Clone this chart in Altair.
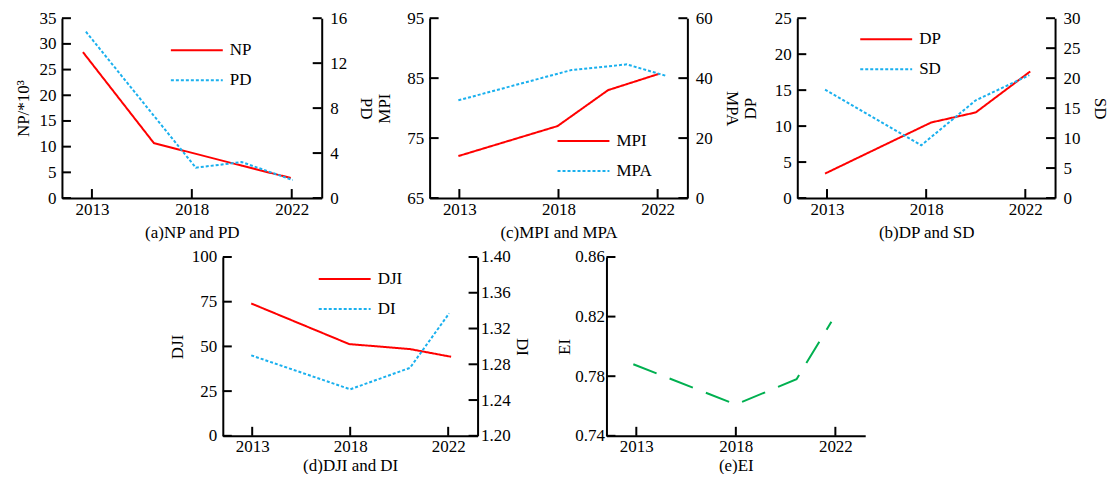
import altair as alt
import pandas as pd

FONT = "Liberation Serif"
RED = "#ff0000"
CYAN = "#1ab0ee"
GREEN = "#00b050"

# shared x axis: three labelled positions
x_tick_pos = [1, 2, 3]
x_tick_labels = ["2013", "2018", "2022"]
X_DOMAIN = [0.7, 3.3]

# (a) NP and PD
np_x = [0.91, 1.62, 2.5, 2.99]
np_v = [28.4, 10.7, 6.3, 3.9]
pd_x = [0.94, 2.04, 2.5, 3.01]
pd_v = [14.8, 2.7, 3.2, 1.6]
np_ticks = [0, 5, 10, 15, 20, 25, 30, 35]
pd_ticks = [0, 4, 8, 12, 16]

# (c) MPI and MPA
mpi_x = [0.99, 1.99, 2.5, 3.01]
mpi_v = [72.0, 77.0, 83.0, 85.7]
mpa_x = [0.99, 2.13, 2.69, 3.08]
mpa_v = [32.6, 42.7, 44.6, 40.8]
mpi_ticks = [65, 75, 85, 95]
mpa_ticks = [0, 20, 40, 60]

# (b) DP and SD
dp_x = [0.98, 2.05, 2.5, 3.05]
dp_v = [3.4, 10.5, 11.9, 17.6]
sd_x = [0.98, 1.95, 2.5, 3.04]
sd_v = [18.1, 8.8, 16.3, 20.5]
dp_ticks = [0, 5, 10, 15, 20, 25]
sd_ticks = [0, 5, 10, 15, 20, 25, 30]

# (d) DJI and DI
dji_x = [0.99, 1.99, 2.61, 3.03]
dji_v = [74.0, 51.3, 48.5, 44.2]
di_x = [0.99, 2.0, 2.61, 3.01]
di_v = [1.290, 1.252, 1.276, 1.337]
dji_ticks = [0, 25, 50, 75, 100]
di_ticks = [1.20, 1.24, 1.28, 1.32, 1.36, 1.40]

# (e) EI
ei_x = [0.97, 2.0, 2.61, 2.96]
ei_v = [0.788, 0.761, 0.778, 0.8165]
ei_ticks = [0.74, 0.78, 0.82, 0.86]

TICK = 9


def label_expr(pos, labels):
    expr = "''"
    for p, l in reversed(list(zip(pos, labels))):
        expr = f"datum.value == {p} ? '{l}' : ({expr})"
    return expr


XLABEL = label_expr(x_tick_pos, x_tick_labels)


def xscale():
    return alt.Scale(domain=X_DOMAIN, nice=False, zero=False)


def yscale(dom):
    return alt.Scale(domain=dom, nice=False, zero=False)


def x_axis(title, tp):
    return alt.Axis(values=x_tick_pos, labelExpr=XLABEL, title=title,
                    labelPadding=3, titlePadding=tp)


def bottom_ticks(h, title, tp):
    return alt.Chart(pd.DataFrame({"v": x_tick_pos})).mark_rule(
        color="black", strokeWidth=2).encode(
        x=alt.X("v:Q", scale=xscale(), axis=x_axis(title, tp)),
        y=alt.value(h), y2=alt.value(h - TICK))


def y_ticks(vals, dom, side, w, axis=None):
    if side == "left":
        xa, xb = 0, TICK
    else:
        xa, xb = w - TICK, w
    return alt.Chart(pd.DataFrame({"v": vals})).mark_rule(
        color="black", strokeWidth=2).encode(
        x=alt.value(xa), x2=alt.value(xb),
        y=alt.Y("v:Q", scale=yscale(dom), axis=axis))


def dual_panel(xs1, ys1, n1, t1, xs2, ys2, n2, t2, title, ytitle1, ytitle2,
               fmt1, fmt2, w, h, legx, legy, tp1, tp2, lp1, lp2, xtp):
    dom1 = [t1[0], t1[-1]]
    dom2 = [t2[0], t2[-1]]
    names = [n1, n2]
    leg = alt.Legend(title=None, orient="none", legendX=legx, legendY=legy)
    color = dict(scale=alt.Scale(domain=names, range=[RED, CYAN]), legend=leg)
    dash = dict(scale=alt.Scale(domain=names, range=[[1, 0], [3, 2]]), legend=leg)

    df1 = pd.DataFrame({"x": xs1, "y": ys1, "series": n1})
    df2 = pd.DataFrame({"x": xs2, "y": ys2, "series": n2})

    l1 = alt.Chart(df1).mark_line(strokeWidth=2).encode(
        x=alt.X("x:Q", scale=xscale(), axis=x_axis(title, xtp)),
        y=alt.Y("y:Q", scale=yscale(dom1),
                axis=alt.Axis(values=t1, format=fmt1, title=ytitle1, orient="left",
                              labelPadding=lp1, titlePadding=tp1)),
        color=alt.Color("series:N", **color),
        strokeDash=alt.StrokeDash("series:N", **dash),
    )
    l2 = alt.Chart(df2).mark_line(strokeWidth=2).encode(
        x=alt.X("x:Q", scale=xscale(), axis=x_axis(title, xtp)),
        y=alt.Y("y:Q", scale=yscale(dom2),
                axis=alt.Axis(values=t2, format=fmt2, title=ytitle2, orient="right",
                              labelPadding=lp2, titlePadding=tp2)),
        color=alt.Color("series:N", **color),
        strokeDash=alt.StrokeDash("series:N", **dash),
    )
    return alt.layer(
        l1, l2, y_ticks(t1, dom1, "left", w), y_ticks(t2, dom2, "right", w),
        bottom_ticks(h, title, xtp)
    ).resolve_scale(y="independent").properties(width=w, height=h)


pa = dual_panel(np_x, np_v, "NP", np_ticks, pd_x, pd_v, "PD", pd_ticks,
                "(a)NP and PD", "NP/*10³", "PD", "d", "d", 260, 180, 108, 23,
                6, 10, 6, 8, 8)
pc = dual_panel(mpi_x, mpi_v, "MPI", mpi_ticks, mpa_x, mpa_v, "MPA", mpa_ticks,
                "(c)MPI and MPA", "MPI", "MPA", "d", "d", 258, 180, 127, 114,
                13, 10, 6, 8, 8)
pb = dual_panel(dp_x, dp_v, "DP", dp_ticks, sd_x, sd_v, "SD", sd_ticks,
                "(b)DP and SD", "DP", "SD", "d", "d", 258, 180, 62, 12,
                15, 10, 6, 8, 8)
pdj = dual_panel(dji_x, dji_v, "DJI", dji_ticks, di_x, di_v, "DI", di_ticks,
                 "(d)DJI and DI", "DJI", "DI", "d", ".2f", 255, 179, 95, 13,
                 5, 2, 6, 3, 3)

ei_dom = [ei_ticks[0], ei_ticks[-1]]
ei_axis = alt.Axis(values=ei_ticks, format=".2f", title="EI", labelPadding=2, titlePadding=1)
ei_line = alt.Chart(pd.DataFrame({"x": ei_x, "y": ei_v})).mark_line(
    strokeWidth=2, color=GREEN, strokeDash=[25, 14]).encode(
    x=alt.X("x:Q", scale=xscale(), axis=x_axis("(e)EI", 3)),
    y=alt.Y("y:Q", scale=yscale(ei_dom), axis=ei_axis),
)
pe = alt.layer(
    ei_line, y_ticks(ei_ticks, ei_dom, "left", 259, ei_axis), bottom_ticks(179, "(e)EI", 3)
).properties(width=259, height=179)

spacer = alt.Chart(pd.DataFrame({"x": [0], "y": [0]})).mark_point(opacity=0).encode(
    x=alt.X("x:Q", axis=None), y=alt.Y("y:Q", axis=None)).properties(width=81, height=10)

top = alt.hconcat(pa, pc, pb, spacing=1).resolve_scale(
    color="independent", strokeDash="independent")
bottom = alt.hconcat(spacer, pdj, pe, spacing=25).resolve_scale(
    color="independent", strokeDash="independent")

chart = alt.vconcat(top, bottom, spacing=7).resolve_scale(
    color="independent", strokeDash="independent"
).properties(
    padding={"left": 15, "top": 9, "right": 2, "bottom": 0}
).configure_view(stroke=None).configure_axis(
    labelFont=FONT, labelFontSize=17, titleFont=FONT, titleFontSize=17,
    titleFontWeight="normal", labelColor="black", titleColor="black",
    domainColor="black", domainWidth=2, ticks=False, grid=False,
).configure_legend(
    labelFont=FONT, labelFontSize=17, labelColor="black", symbolType="stroke",
    symbolSize=2700, symbolStrokeWidth=2, labelOffset=6, rowPadding=12, padding=0,
    clipHeight=18,
)

chart.save("out.html", embed_options={"renderer": "svg", "actions": False})
